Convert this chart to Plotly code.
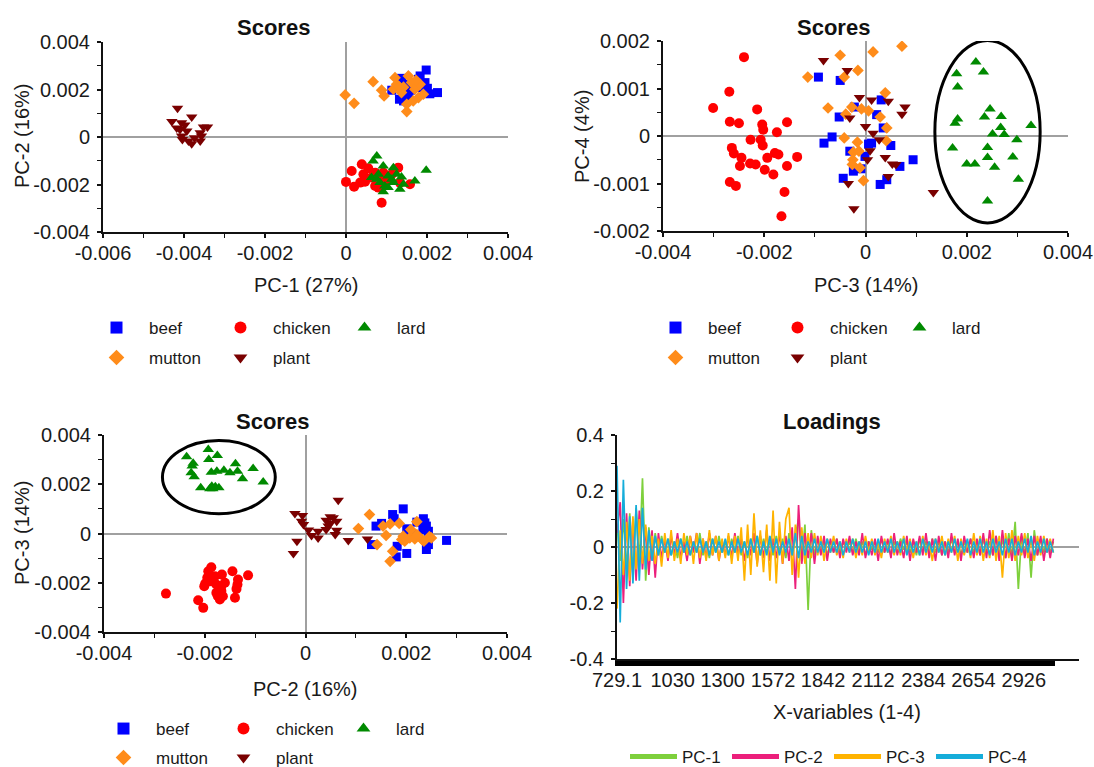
import plotly.graph_objects as go

W, H = 1094, 767
FONT = "Liberation Sans, Arial, sans-serif"

# ---------------- data (score values are in units of 1e-3) ----------------
UNIT = 1e-3
groups = ["beef", "chicken", "lard", "mutton", "plant"]

# Plot A : PC-1 (x) vs PC-2 (y)
a_beef_x = [1.98, 1.13, 1.37, 1.50, 1.32, 1.42, 1.79, 1.87, 2.07, 2.26, 1.70, 1.60, 1.95, 1.33, 1.83, 1.54, 2.01, 1.46]
a_beef_y = [2.82, 1.97, 2.47, 2.22, 1.59, 1.52, 2.43, 2.08, 1.82, 1.87, 2.22, 1.97, 2.29, 2.39, 2.57, 1.66, 2.05, 1.80]
a_chicken_x = [0.00, 0.14, 0.20, 0.39, 0.43, 0.47, 0.55, 0.72, 0.72, 0.88, 0.88, 1.00, 1.29, 1.33, 1.58, 0.80, 0.63, 1.13, 0.35, 0.92]
a_chicken_y = [-1.89, -1.43, -2.09, -1.15, -1.57, -1.88, -1.32, -1.50, -2.06, -2.77, -1.71, -1.85, -1.29, -1.92, -1.99, -2.13, -1.71, -1.57, -1.92, -1.50]
a_lard_x = [0.76, 0.67, 0.92, 1.17, 0.80, 0.63, 1.04, 1.25, 1.37, 1.70, 1.98, 0.96, 1.17, 1.33, 0.92, 1.04, 0.84, 1.13, 1.42, 0.76]
a_lard_y = [-0.80, -1.01, -1.22, -1.29, -1.57, -1.71, -1.64, -1.57, -1.68, -1.85, -1.40, -2.06, -1.92, -2.20, -2.30, -2.13, -1.92, -1.78, -1.99, -1.78]
a_mutton_x = [-0.02, 0.20, 0.67, 0.88, 0.94, 1.21, 1.25, 1.42, 1.54, 1.62, 1.70, 1.83, 1.91, 1.66, 1.50, 1.50, 1.79, 1.37, 1.17, 1.73, 1.32]
a_mutton_y = [1.77, 1.42, 2.33, 1.97, 1.73, 2.50, 2.22, 2.10, 2.57, 2.29, 2.01, 2.22, 1.80, 1.52, 1.38, 1.07, 1.66, 1.87, 2.01, 2.39, 2.10]
a_plant_x = [-4.16, -4.30, -4.06, -3.81, -3.98, -3.52, -3.42, -4.10, -3.93, -4.06, -3.60, -3.81, -4.04, -3.60, -3.89, -4.18, -3.57, -3.74]
a_plant_y = [1.21, 0.65, 0.60, 0.84, 0.51, 0.42, 0.42, 0.32, 0.25, 0.04, 0.18, -0.28, -0.10, -0.17, -0.17, 0.38, 0.04, -0.03]

# Plot B : PC-3 (x) vs PC-4 (y)
b_beef_x = [-0.93, -0.50, -0.22, -0.52, -0.66, -0.82, -0.31, -0.24, -0.44, 0.31, 0.22, 0.35, 0.12, 0.50, 0.94, 0.68, -0.01, -0.09, 0.42, 0.29, 0.06]
b_beef_y = [1.24, 1.17, 0.61, 0.40, -0.02, -0.15, -0.32, -0.74, -0.89, 0.76, 0.45, 0.17, -0.15, -0.20, -0.50, -0.64, -0.43, -0.69, -0.92, -1.02, -0.17]
b_chicken_x = [-2.40, -2.69, -3.01, -2.14, -2.68, -2.50, -2.04, -2.02, -1.75, -1.55, -2.27, -2.07, -2.03, -2.64, -2.60,
               -2.45, -2.48, -2.28, -2.17, -1.94, -1.79, -1.72, -1.35, -1.55, -1.99, -1.82, -2.68, -2.56, -1.60, -1.66]
b_chicken_y = [1.66, 0.93, 0.59, 0.56, 0.30, 0.27, 0.24, 0.13, 0.08, 0.29, -0.08, -0.08, -0.20, -0.25, -0.37,
               -0.46, -0.63, -0.58, -0.60, -0.46, -0.36, -0.39, -0.44, -0.63, -0.71, -0.81, -0.97, -1.05, -1.18, -1.69]
b_lard_x = [2.18, 2.33, 1.80, 1.82, 2.46, 2.35, 2.68, 1.82, 1.77, 3.27, 2.67, 2.51, 2.74, 2.99, 1.72, 2.41, 2.41, 2.91, 2.00, 2.16, 2.55, 3.02, 2.41]
b_lard_y = [1.56, 1.35, 1.31, 1.03, 0.57, 0.40, 0.41, 0.36, 0.27, 0.22, 0.18, 0.04, 0.03, -0.08, -0.25, -0.24, -0.45, -0.44, -0.59, -0.59, -0.66, -0.91, -1.37]
b_mutton_x = [-0.50, -1.14, -0.42, -0.15, -0.74, -0.39, -0.27, -0.42, -0.16, -0.24, -0.25, -0.26, 0.15, 0.72, 0.39, -0.08, 0.06, 0.29, 0.42, 0.41, -0.13, -0.11, -0.04]
b_mutton_y = [1.70, 1.24, 1.24, 1.38, 0.59, 0.46, 0.61, -0.04, -0.13, -0.34, -0.50, -0.60, 1.77, 1.89, 0.91, 0.57, 0.53, 0.40, 0.17, -0.10, -0.32, -0.67, -0.94]
b_plant_x = [-0.83, -0.36, -0.31, -0.12, -0.34, -0.23, 0.12, 0.45, 0.78, 0.72, 0.00, 0.15, 0.27, 0.09, 0.39, 0.53, 0.60, 0.04, 0.45, 1.34]
b_plant_y = [1.59, 1.38, 0.38, 0.81, -1.00, -1.53, 0.76, 0.73, 0.61, 0.46, 0.20, 0.06, -0.08, -0.31, -0.45, -0.59, -0.60, -0.50, -0.85, -1.19]

# Plot C : PC-2 (x) vs PC-3 (y)
c_beef_x = [1.94, 1.73, 1.76, 1.51, 1.40, 2.34, 2.37, 2.40, 2.21, 2.01, 2.04, 2.33, 2.44, 2.80, 1.31, 1.82, 2.01, 1.80, 2.40, 2.44, 2.14]
c_beef_y = [1.00, 0.77, 0.60, 0.41, 0.30, 0.60, 0.43, 0.30, 0.46, 0.19, 0.03, 0.16, 0.09, -0.28, -0.45, -0.52, -0.81, -0.95, -0.65, -0.45, -0.04]
c_chicken_x = [-2.77, -2.13, -2.03, -1.87, -1.93, -1.95, -1.80, -1.66, -1.45, -1.14, -1.34, -1.35, -1.37, -1.40, -1.99,
               -2.01, -1.77, -1.67, -1.77, -1.67, -1.70, -1.64, -1.74, -1.88, -1.60]
c_chicken_y = [-2.44, -2.71, -3.02, -1.37, -1.53, -1.80, -1.74, -1.67, -1.53, -1.70, -1.87, -2.07, -2.25, -2.61, -2.03,
               -2.14, -2.07, -2.14, -2.41, -2.34, -2.68, -2.55, -2.55, -1.94, -2.00]
c_lard_x = [-2.36, -1.93, -1.75, -2.23, -2.25, -1.92, -2.27, -2.21, -1.87, -1.76, -1.62, -1.50, -1.39, -1.35, -1.04, -1.25, -0.84, -2.08, -1.90, -1.84, -1.79, -1.72, -1.86]
c_lard_y = [3.12, 3.41, 3.17, 2.85, 2.74, 3.01, 2.47, 2.30, 2.49, 2.53, 2.57, 2.47, 2.83, 2.53, 2.64, 2.22, 2.09, 1.86, 1.82, 1.82, 1.90, 1.86, 1.92]
c_mutton_x = [1.27, 1.05, 1.54, 1.68, 1.86, 2.21, 1.60, 1.42, 1.73, 1.68, 1.91, 1.97, 1.94, 2.07, 2.17, 2.31, 2.46, 2.50, 2.35, 2.21, 2.09]
c_mutton_y = [0.77, 0.20, 0.30, 0.39, 0.41, 0.48, -0.08, -0.45, -0.72, -1.13, -0.24, -0.31, -0.11, -0.18, -0.22, -0.24, -0.13, -0.18, -0.31, -0.04, 0.16]
c_plant_x = [0.65, -0.21, -0.06, -0.08, -0.04, 0.06, 0.12, 0.25, 0.25, 0.41, 0.49, 0.55, 0.62, 0.45, 0.41, 0.62, 0.59, 0.85, 1.23, -0.17, -0.24, 0.49]
c_plant_y = [1.35, 0.81, 0.73, 0.50, 0.37, 0.14, -0.08, 0.09, -0.18, 0.54, 0.68, 0.64, 0.50, 0.30, 0.16, 0.13, -0.04, -0.28, -0.22, -0.31, -0.81, 0.41]

# Loadings (first variable 729.1, regular spacing)
LOAD_X0 = 729.1
LOAD_DX = 17.2
load_pc1 = [0.08, -0.05, 0.10, -0.08, 0.12, -0.10, 0.14, -0.06, 0.245, -0.12, 0.07, -0.04, 0.05, -0.03, 0.04, -0.02, 0.03, -0.03, 0.02, -0.04,
            0.03, -0.02, 0.04, -0.03, 0.02, -0.02, 0.05, -0.03, 0.02, -0.04, 0.03, -0.02, 0.04, -0.02, 0.02, -0.03, 0.03, -0.02, 0.04, -0.03,
            0.02, -0.04, 0.03, -0.02, 0.04, -0.03, 0.03, -0.02, 0.02, -0.03, 0.04, -0.02, 0.03, -0.04, 0.05, -0.03, 0.04, 0.10, -0.05, 0.08,
            -0.225, 0.06, -0.03, 0.03, -0.02, 0.02, -0.03, 0.02, -0.02, 0.03, -0.02, 0.02, -0.01, 0.02, -0.02, 0.03, -0.02, 0.02, -0.03, 0.02,
            -0.01, 0.02, -0.02, 0.03, -0.02, 0.02, -0.03, 0.02, -0.02, 0.03, -0.01, 0.02, -0.02, 0.02, -0.03, 0.03, -0.02, 0.02, -0.02, 0.03,
            -0.02, 0.02, -0.03, 0.02, -0.02, 0.03, -0.02, 0.02, -0.03, 0.02, -0.02, 0.03, -0.02, 0.02, -0.03, 0.03, -0.02, 0.02, -0.03, 0.04,
            -0.03, 0.03, -0.04, 0.05, -0.04, 0.09, -0.15, 0.04, -0.03, 0.05, -0.11, 0.06, -0.03, 0.03, -0.02, 0.03, -0.02, 0.02]
load_pc2 = [0.05, 0.16, -0.20, 0.12, -0.14, 0.10, -0.12, 0.13, -0.08, 0.07, -0.10, 0.06, -0.11, 0.05, -0.04, 0.03, -0.05, 0.04, -0.03, 0.05,
            -0.04, 0.02, -0.05, 0.04, -0.02, 0.05, -0.06, 0.03, -0.04, 0.05, -0.03, 0.04, -0.05, 0.02, -0.03, 0.04, -0.04, 0.05, -0.03, 0.03,
            -0.05, 0.04, -0.03, 0.05, -0.06, 0.04, -0.04, 0.06, -0.05, 0.03, -0.04, 0.05, -0.06, 0.04, -0.05, 0.07, -0.15, 0.15, -0.06, 0.05,
            -0.04, 0.05, -0.06, 0.04, -0.03, 0.04, -0.05, 0.03, -0.02, 0.03, -0.04, 0.03, -0.02, 0.04, -0.03, 0.02, -0.03, 0.05, -0.04, 0.02,
            -0.03, 0.03, -0.05, 0.04, -0.02, 0.03, -0.04, 0.05, -0.03, 0.02, -0.04, 0.04, -0.05, 0.03, -0.02, 0.04, -0.03, 0.05, -0.04, 0.03,
            -0.05, 0.04, -0.03, 0.02, -0.04, 0.05, -0.03, 0.03, -0.05, 0.04, -0.02, 0.03, -0.04, 0.03, -0.03, 0.05, -0.04, 0.06, -0.03, 0.04,
            -0.05, 0.06, -0.04, 0.03, -0.05, 0.04, -0.03, 0.05, -0.04, 0.03, -0.05, 0.04, -0.03, 0.04, -0.05, 0.03, -0.04, 0.03]
load_pc3 = [-0.22, 0.06, -0.10, 0.09, -0.12, 0.11, -0.08, 0.10, -0.06, 0.08, -0.05, 0.04, -0.06, 0.03, -0.07, 0.05, -0.04, 0.06, -0.05, 0.03,
            -0.06, 0.05, -0.03, 0.04, -0.06, 0.05, -0.04, 0.03, -0.05, 0.06, -0.03, 0.04, -0.05, 0.03, -0.04, 0.05, -0.06, 0.04, -0.05, 0.07,
            -0.12, 0.08, -0.10, 0.12, -0.07, 0.06, -0.09, 0.08, -0.12, 0.13, -0.13, 0.09, -0.06, 0.10, 0.14, -0.10, 0.08, -0.11, 0.07, -0.06,
            0.05, -0.04, 0.05, -0.03, 0.04, -0.05, 0.03, -0.02, 0.04, -0.03, 0.02, -0.04, 0.03, -0.02, 0.03, -0.04, 0.02, -0.03, 0.04, -0.02,
            0.03, -0.03, 0.02, -0.04, 0.03, -0.02, 0.04, -0.03, 0.02, -0.03, 0.04, -0.02, 0.03, -0.04, 0.02, -0.03, 0.04, -0.03, 0.02, -0.05,
            0.03, -0.02, 0.04, -0.03, 0.03, -0.02, 0.04, -0.05, 0.03, -0.03, 0.02, -0.04, 0.05, -0.03, 0.04, -0.05, 0.03, -0.04, 0.06, -0.05,
            0.04, -0.11, 0.05, -0.04, 0.06, -0.05, 0.04, -0.03, 0.05, -0.04, 0.03, -0.05, 0.04, -0.03, 0.04, -0.02, 0.03, -0.02]
load_pc4 = [0.29, -0.27, 0.24, -0.15, 0.11, -0.13, 0.15, -0.12, 0.14, -0.08, 0.06, -0.05, 0.04, -0.03, 0.03, -0.02, 0.03, -0.03, 0.02, -0.02,
            0.03, -0.02, 0.02, -0.03, 0.02, -0.02, 0.03, -0.02, 0.02, -0.03, 0.03, -0.02, 0.02, -0.02, 0.03, -0.03, 0.02, -0.02, 0.03, -0.02,
            0.02, -0.03, 0.03, -0.02, 0.04, -0.03, 0.02, -0.03, 0.04, -0.02, 0.03, -0.03, 0.02, -0.02, 0.03, -0.03, 0.05, -0.04, 0.04, -0.03,
            0.02, -0.02, 0.03, -0.02, 0.02, -0.02, 0.03, -0.02, 0.02, -0.02, 0.02, -0.03, 0.02, -0.02, 0.03, -0.02, 0.02, -0.02, 0.02, -0.03,
            0.02, -0.02, 0.03, -0.02, 0.02, -0.02, 0.03, -0.02, 0.02, -0.02, 0.03, -0.03, 0.02, -0.02, 0.02, -0.03, 0.03, -0.02, 0.02, -0.02,
            0.03, -0.02, 0.02, -0.03, 0.02, -0.02, 0.03, -0.02, 0.02, -0.02, 0.03, -0.03, 0.02, -0.02, 0.03, -0.02, 0.02, -0.03, 0.03, -0.02,
            0.02, -0.03, 0.03, -0.02, 0.03, -0.03, 0.02, -0.02, 0.03, -0.02, 0.04, -0.03, 0.02, -0.02, 0.03, -0.02, 0.02, -0.02]
load_names = ["PC-1", "PC-2", "PC-3", "PC-4"]
load_tick_labels = ["729.1", "1030", "1300", "1572", "1842", "2112", "2384", "2654", "2926"]

score_tick_a_x = ["-0.006", "-0.004", "-0.002", "0", "0.002", "0.004"]
score_tick_a_y = ["-0.004", "-0.002", "0", "0.002", "0.004"]
score_tick_b_x = ["-0.004", "-0.002", "0", "0.002", "0.004"]
score_tick_b_y = ["-0.002", "-0.001", "0", "0.001", "0.002"]
score_tick_c_x = ["-0.004", "-0.002", "0", "0.002", "0.004"]
score_tick_c_y = ["-0.004", "-0.002", "0", "0.002", "0.004"]
load_tick_y = ["-0.4", "-0.2", "0", "0.2", "0.4"]

# ---------------- styling ----------------
STYLE = {
    "beef": dict(symbol="square", color="#0000FF", size=9),
    "chicken": dict(symbol="circle", color="#FF0000", size=10),
    "lard": dict(symbol="triangle-up", color="#008A00", size=10),
    "mutton": dict(symbol="diamond", color="#FF8C1A", size=9),
    "plant": dict(symbol="triangle-down", color="#7A0000", size=10),
}
LOAD_COLORS = ["#7ED03C", "#EC1F7B", "#FFB300", "#15ADDA"]


def fx(p):
    return p / W


def fy(p):
    return 1 - p / H


fig = go.Figure()

panels = [
    ("x", "y", {"beef": (a_beef_x, a_beef_y), "chicken": (a_chicken_x, a_chicken_y), "lard": (a_lard_x, a_lard_y),
                "mutton": (a_mutton_x, a_mutton_y), "plant": (a_plant_x, a_plant_y)}, "legend", "legend2"),
    ("x2", "y2", {"beef": (b_beef_x, b_beef_y), "chicken": (b_chicken_x, b_chicken_y), "lard": (b_lard_x, b_lard_y),
                  "mutton": (b_mutton_x, b_mutton_y), "plant": (b_plant_x, b_plant_y)}, "legend3", "legend4"),
    ("x3", "y3", {"beef": (c_beef_x, c_beef_y), "chicken": (c_chicken_x, c_chicken_y), "lard": (c_lard_x, c_lard_y),
                  "mutton": (c_mutton_x, c_mutton_y), "plant": (c_plant_x, c_plant_y)}, "legend5", "legend6"),
]

for xa, ya, data, leg_top, leg_bot in panels:
    for g in groups:
        xs, ys = data[g]
        st = STYLE[g]
        fig.add_trace(go.Scatter(
            x=[v * UNIT for v in xs], y=[v * UNIT for v in ys], mode="markers", name=g,
            marker=dict(symbol=st["symbol"], color=st["color"], size=st["size"], line=dict(width=0)),
            xaxis=xa, yaxis=ya, legend=leg_top if g in ("beef", "chicken", "lard") else leg_bot,
            showlegend=True, hoverinfo="x+y+name"))

for name, vals, col in zip(load_names, [load_pc1, load_pc2, load_pc3, load_pc4], LOAD_COLORS):
    fig.add_trace(go.Scatter(y=vals, x0=LOAD_X0, dx=LOAD_DX, mode="lines", name=name,
                             line=dict(color=col, width=1.7), xaxis="x4", yaxis="y4", legend="legend7"))

TICKFONT = dict(family=FONT, size=20, color="#1a1a1a")


def score_axis(dom, labels, minor, standoff=3, **kw):
    vals = [float(t) for t in labels]
    d = dict(domain=dom, range=[vals[0], vals[-1]], tickmode="array", tickvals=vals, ticktext=labels,
             showline=True, linecolor="#111", linewidth=2, ticks="outside", ticklen=4, tickwidth=1.5,
             tickcolor="#111", showgrid=False, zeroline=True, zerolinecolor="#a0a0a0", zerolinewidth=1.5,
             tickfont=TICKFONT, fixedrange=True, ticklabelstandoff=standoff,
             minor=dict(dtick=minor, tick0=0, ticks="outside", ticklen=4, tickwidth=1.2, tickcolor="#111", showgrid=False))
    d.update(kw)
    return d


layout = dict(
    width=W, height=H, margin=dict(l=0, r=0, t=0, b=0, autoexpand=False), paper_bgcolor="white", plot_bgcolor="white",
    font=dict(family=FONT, color="#1a1a1a"), hovermode="closest",
    xaxis=score_axis([fx(103), fx(508)], score_tick_a_x, 0.001, standoff=-2, anchor="y"),
    yaxis=score_axis([fy(232), fy(42)], score_tick_a_y, 0.001, anchor="x"),
    xaxis2=score_axis([fx(663), fx(1068)], score_tick_b_x, 0.001, standoff=-2, anchor="y2"),
    yaxis2=score_axis([fy(231), fy(41)], score_tick_b_y, 0.0005, anchor="x2"),
    xaxis3=score_axis([fx(104), fx(507)], score_tick_c_x, 0.001, standoff=-2, anchor="y3"),
    yaxis3=score_axis([fy(632), fy(435)], score_tick_c_y, 0.001, anchor="x3"),
)

# loadings axes: one tick per variable forms the dense black bar, labels at selected wavenumbers
n_load = len(load_pc1)
lt_vals = [float(t) for t in load_tick_labels]
grid_vals = [LOAD_X0 + i * LOAD_DX for i in range(n_load)]
grid_vals = [g for g in grid_vals if min(abs(g - v) for v in lt_vals) > LOAD_DX / 3]
layout["xaxis4"] = dict(domain=[fx(617), fx(1079)], anchor="y4", range=[LOAD_X0, LOAD_X0 + 462 / 0.18519],
                        tickmode="array", tickvals=lt_vals + grid_vals, ticktext=load_tick_labels + [""] * len(grid_vals),
                        showline=True, linecolor="#111", linewidth=2, ticks="outside", ticklen=5, tickwidth=4.2,
                        tickcolor="#000", showgrid=False, zeroline=False, tickfont=TICKFONT, fixedrange=True,
                        ticklabelstandoff=-3)
ly_vals = [float(t) for t in load_tick_y]
layout["yaxis4"] = dict(domain=[fy(659), fy(435)], anchor="x4", range=[ly_vals[0], ly_vals[-1]], tickmode="array",
                        tickvals=ly_vals, ticktext=load_tick_y, showline=True, linecolor="#111", linewidth=2,
                        ticks="outside", ticklen=4, tickwidth=1.5, tickcolor="#111", showgrid=False, zeroline=True,
                        zerolinecolor="#a0a0a0", zerolinewidth=1.5, tickfont=TICKFONT, fixedrange=True,
                        ticklabelstandoff=3,
                        minor=dict(dtick=0.1, tick0=0, ticks="outside", ticklen=4, tickwidth=1.2, tickcolor="#111"))


def legend_cfg(xp, yp, entry=54, itemwidth=55):
    return dict(x=fx(xp), y=fy(yp), xanchor="left", yanchor="middle", orientation="h",
                entrywidth=entry, entrywidthmode="pixels", itemwidth=itemwidth, itemsizing="constant",
                font=dict(family=FONT, size=17, color="#1a1a1a"), bgcolor="rgba(0,0,0,0)", borderwidth=0,
                tracegroupgap=0, itemclick=False, itemdoubleclick=False)


layout["legend"] = legend_cfg(84, 328)
layout["legend2"] = legend_cfg(84, 358)
layout["legend3"] = legend_cfg(643, 328, entry=52)
layout["legend4"] = legend_cfg(643, 358, entry=52)
layout["legend5"] = legend_cfg(91, 729, entry=50)
layout["legend6"] = legend_cfg(91, 758, entry=50)
layout["legend7"] = legend_cfg(625, 757, entry=40, itemwidth=47)

TITLEFONT = dict(family=FONT, size=22, color="#111", weight=700)
AXFONT = dict(family=FONT, size=20, color="#1a1a1a")
ann = []


def add_text(text, xp, yp, font, angle=0):
    ann.append(dict(text=text, x=fx(xp), y=fy(yp), xref="paper", yref="paper", showarrow=False,
                    xanchor="center", yanchor="middle", font=font, textangle=angle))


add_text("Scores", 273, 28, TITLEFONT)
add_text("Scores", 833, 28, TITLEFONT)
add_text("Scores", 272, 421, TITLEFONT)
add_text("Loadings", 832, 421, TITLEFONT)
add_text("PC-1 (27%)", 306, 285, AXFONT)
add_text("PC-3 (14%)", 866, 285, AXFONT)
add_text("PC-2 (16%)", 305, 689, AXFONT)
add_text("X-variables (1-4)", 847, 712, AXFONT)
add_text("PC-2 (16%)", 22, 136, AXFONT, -90)
add_text("PC-4 (4%)", 582, 136, AXFONT, -90)
add_text("PC-3 (14%)", 22, 533, AXFONT, -90)
layout["annotations"] = ann

# ellipses highlighting the lard cluster
ELL_B = dict(x0=1.37, x1=3.45, y0=-1.83, y1=2.01)
ELL_C = dict(x0=-2.84, x1=-0.60, y0=0.80, y1=3.78)
layout["shapes"] = [
    dict(type="circle", xref="x2", yref="y2", x0=ELL_B["x0"] * UNIT, x1=ELL_B["x1"] * UNIT,
         y0=ELL_B["y0"] * UNIT, y1=ELL_B["y1"] * UNIT, line=dict(color="black", width=3)),
    dict(type="circle", xref="x3", yref="y3", x0=ELL_C["x0"] * UNIT, x1=ELL_C["x1"] * UNIT,
         y0=ELL_C["y0"] * UNIT, y1=ELL_C["y1"] * UNIT, line=dict(color="black", width=3)),
]

fig.update_layout(**layout)
fig.write_html("out.html")
